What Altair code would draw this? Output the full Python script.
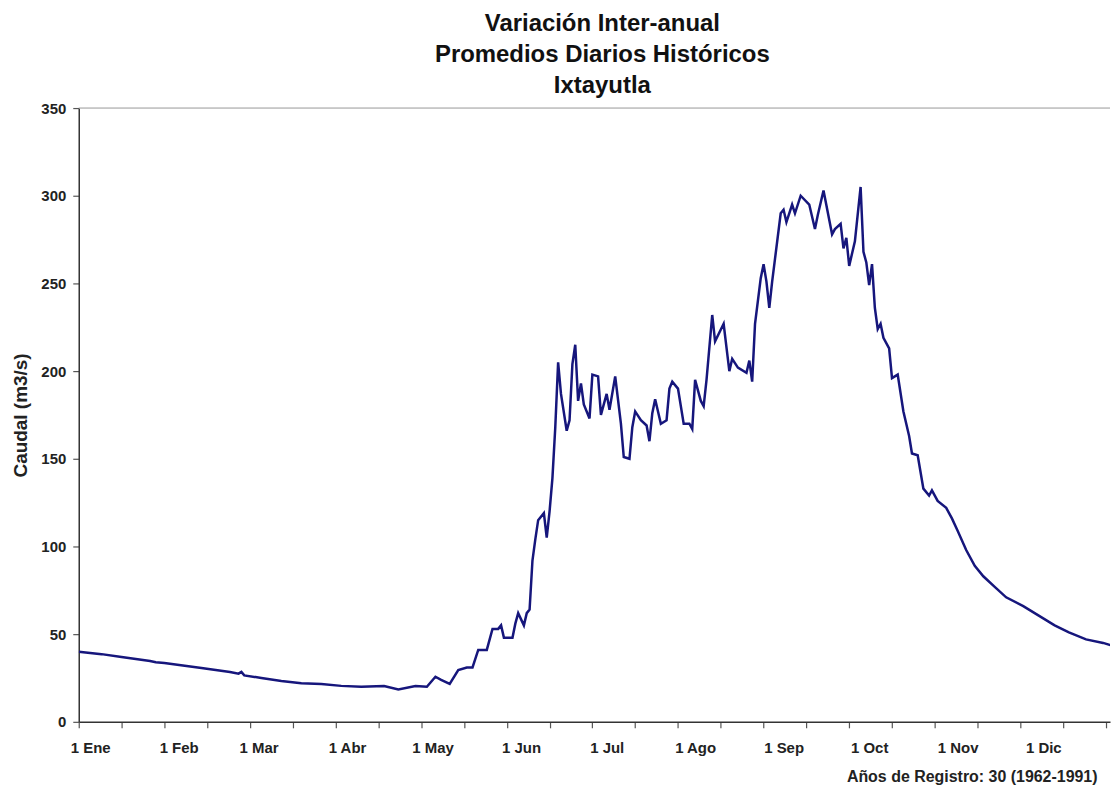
import altair as alt
import pandas as pd

# ---- data ----
titulo = ["Variación Inter-anual", "Promedios Diarios Históricos", "Ixtayutla"]
eje_y_titulo = "Caudal (m3/s)"
pie = "Años de Registro: 30 (1962-1991)"

dias = [0, 8, 15, 25, 27, 30, 43, 53, 56, 57, 58, 64, 71, 78, 85, 92, 99, 107, 112, 118,
        122, 125, 127, 130, 133, 136, 138, 140, 143, 145, 147, 148, 149, 152, 153, 154, 156, 157, 158, 159,
        160, 161, 163, 164, 165, 166, 167, 168, 169, 171, 172, 173, 174, 175, 176, 177, 179, 180, 182, 183,
        185, 186, 188, 190, 191, 193, 194, 195, 197, 199, 200, 201, 202, 204, 206, 207, 208, 210, 212, 214,
        215, 216, 218, 219, 220, 222, 223, 226, 228, 229, 231, 234, 235, 236, 237, 239, 240, 241, 242, 243,
        244, 246, 247, 248, 250, 251, 253, 256, 258, 259, 261, 264, 265, 267, 268, 269, 270, 272, 274, 275,
        276, 277, 278, 279, 280, 281, 282, 284, 285, 287, 289, 291, 292, 294, 296, 298, 299, 301, 304, 306,
        308, 311, 314, 317, 321, 325, 331, 336, 342, 347, 353, 359, 363, 364]
caudal = [40, 38.6, 37, 34.7, 34, 33.5, 30.7, 28.4, 27.5, 28.5, 26.5, 25, 23.3, 22, 21.6, 20.5, 20, 20.4, 18.5, 20.4,
          20, 25.7, 23.9, 21.6, 29.5, 31, 31, 41, 41, 53, 53, 55, 48, 48, 56, 62, 55, 62, 64, 92,
          104, 115, 119, 105, 120, 139, 168, 205, 187, 166, 172, 204, 215, 183, 193, 181, 173, 198, 197, 175,
          187, 178, 197, 170, 151, 150, 168, 177, 172, 169, 160, 176, 184, 170, 172, 190, 194, 190, 170, 170,
          167, 195, 183, 180, 195, 232, 217, 227, 200, 207, 202, 199, 206, 194, 227, 253, 261, 251, 236, 251,
          264, 290, 292, 285, 295, 290, 300, 295, 281, 289, 303, 278, 281, 284, 270, 276, 260, 274, 305, 268,
          262, 249, 261, 236, 224, 227, 219, 213, 196, 198, 177, 163, 153, 152, 133, 129, 132, 126, 122, 116,
          109, 98, 89, 83, 77, 71, 66, 61, 55, 51, 47, 45, 43, 42.5]

meses = ["1 Ene", "1 Feb", "1 Mar", "1 Abr", "1 May", "1 Jun",
         "1 Jul", "1 Ago", "1 Sep", "1 Oct", "1 Nov", "1 Dic"]
inicio_mes = [0, 31, 59, 90, 120, 151, 181, 212, 243, 273, 304, 334]

ticks_x = list(range(0, 361, 15))
ticks_y = [0, 50, 100, 150, 200, 250, 300, 350]

# ---- chart ----
FONT = "Liberation Sans"
W, H = 1035, 616

df = pd.DataFrame({"dia": dias, "caudal": caudal})
dm = pd.DataFrame({"dia": inicio_mes, "mes": meses})
dtop = pd.DataFrame({"v": [350]})

xscale = alt.Scale(domain=[0, 361.4], nice=False, zero=False)
yscale = alt.Scale(domain=[0, 350], nice=False)

linea = alt.Chart(df).mark_line(color="#16167c", strokeWidth=2.5, clip=True).encode(
    x=alt.X("dia:Q", scale=xscale,
            axis=alt.Axis(values=ticks_x, labels=False, grid=False, tickSize=6,
                          domainColor="#333333", domainWidth=1.5, tickColor="#555555", tickWidth=1.2,
                          title=pie, titleX=W - 13, titleY=55, titleAlign="right",
                          titleBaseline="middle", titleFont=FONT, titleFontSize=16,
                          titleFontWeight="bold", titleColor="#222222")),
    y=alt.Y("caudal:Q", scale=yscale,
            axis=alt.Axis(values=ticks_y, grid=False, tickSize=6, labelPadding=7,
                          domainColor="#333333", domainWidth=1.5, tickColor="#555555", tickWidth=1.2,
                          labelFont=FONT, labelFontSize=15, labelFontWeight="bold", labelColor="#222222",
                          title=eje_y_titulo, titlePadding=10, titleFont=FONT, titleFontSize=19,
                          titleFontWeight="bold", titleColor="#222222")),
)

borde = alt.Chart(dtop).mark_rule(color="#999999", strokeWidth=1).encode(
    y=alt.Y("v:Q", scale=yscale)
)

etiquetas = alt.Chart(dm).mark_text(font=FONT, fontSize=15, fontWeight="bold",
                                    color="#222222", dx=12, baseline="middle").encode(
    x=alt.X("dia:Q", scale=xscale),
    y=alt.value(H + 26),
    text="mes:N",
)

chart = alt.layer(borde, linea, etiquetas).properties(
    width=W, height=H,
    title=alt.TitleParams(text=titulo, font=FONT, fontSize=24, lineHeight=31,
                          fontWeight="bold", anchor="middle", color="#111111",
                          offset=3, dx=8),
    padding={"left": 3, "top": 3, "right": 0, "bottom": 5},
).configure_view(stroke=None)

chart.save("out.html", embed_options={"renderer": "svg", "actions": False})
